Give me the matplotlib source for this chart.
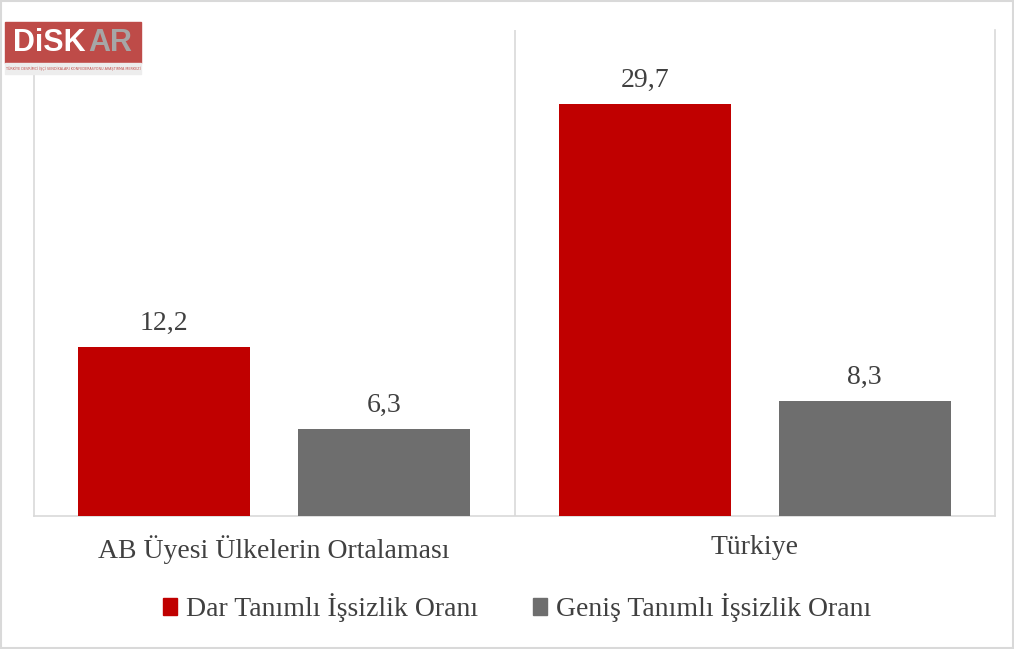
import matplotlib.pyplot as plt
import numpy as np
from matplotlib.patches import Rectangle

categories = ["AB Üyesi Ülkelerin Ortalaması", "Türkiye"]
series_names = ["Dar Tanımlı İşsizlik Oranı", "Geniş Tanımlı İşsizlik Oranı"]
dar = [12.2, 29.7]
genis = [6.3, 8.3]
colors = ["#C00000", "#6E6E6E"]

plt.rcParams['font.family'] = ['Liberation Serif', 'DejaVu Serif']

fig = plt.figure(figsize=(10.14, 6.49), dpi=100)
ax = fig.add_axes([34 / 1014, 1 - 516 / 649, 961 / 1014, 486 / 649])

x = np.arange(len(categories)) + 0.5
w = 0.358
off = 0.229
txt = "#404040"
for vals, dx, c in [(dar, -off, colors[0]), (genis, off, colors[1])]:
    bars = ax.bar(x + dx, vals, w, color=c, zorder=3)
    for b, v in zip(bars, vals):
        ax.text(b.get_x() + b.get_width() / 2, v + 0.75, f"{v:.1f}".replace(".", ","),
                ha="center", va="bottom", fontsize=20, color=txt)

ax.set_xlim(0, 2)
ax.set_ylim(0, 35)
ax.set_yticks([])
ax.set_xticks(x)
ax.set_xticklabels(categories, fontsize=20, color=txt)
ax.tick_params(axis="x", length=0, pad=14)
ax.spines["top"].set_visible(False)
for s in ["left", "right", "bottom"]:
    ax.spines[s].set_color("#D9D9D9")
    ax.spines[s].set_linewidth(1.2)
ax.axvline(1, color="#D9D9D9", lw=1.2, zorder=1)

# legend
handles = [Rectangle((0, 0), 1, 1, color=c) for c in colors]
fig.legend(handles, series_names, loc="center", bbox_to_anchor=(0.51, 1 - 608 / 649),
           ncol=2, frameon=False, fontsize=20, labelcolor=txt,
           handlelength=0.5, handleheight=0.55, handletextpad=0.3, columnspacing=2.0)

# outer border
fig.patches.append(Rectangle((0.001, 0.001), 0.998, 0.997, transform=fig.transFigure,
                             fill=False, edgecolor="#D9D9D9", lw=1.5))

# logo
lx0, lx1 = 5 / 1014, 141 / 1014
fig.patches.append(Rectangle((lx0, 1 - 63 / 649), lx1 - lx0, 41 / 649, transform=fig.transFigure,
                             color="#BE4B48", zorder=5))
fig.patches.append(Rectangle((lx0, 1 - 74 / 649), lx1 - lx0, 11 / 649, transform=fig.transFigure,
                             color="#EDEDED", zorder=5))
fig.text(13 / 1014, 1 - 43 / 649, "DiSK", color="white", fontsize=22, fontweight="bold",
         va="center", ha="left", family="Liberation Sans", zorder=6)
fig.text(88 / 1014, 1 - 43 / 649, "AR", color="#A6A6A6", fontsize=22, fontweight="bold",
         va="center", ha="left", family="Liberation Sans", zorder=6)
fig.text(73 / 1014, 1 - 69 / 649, "TÜRKİYE DEVRİMCİ İŞÇİ SENDİKALARI KONFEDERASYONU ARAŞTIRMA MERKEZİ",
         color="#C0504D", fontsize=2.4, va="center", ha="center", family="DejaVu Sans", zorder=6)

fig.savefig("out.png", dpi=100)
